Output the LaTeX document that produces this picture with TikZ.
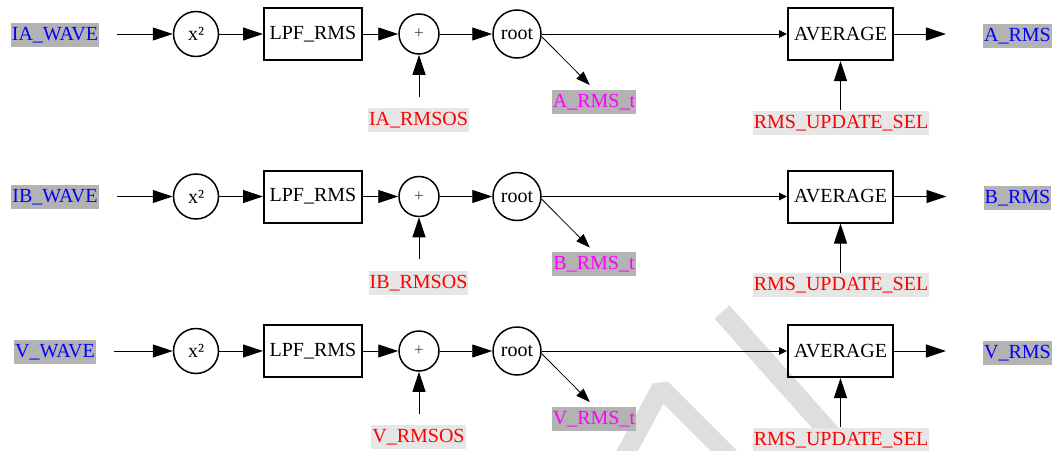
\documentclass[tikz,border=0pt]{standalone}
\usepackage{fontspec}
\setmainfont{Liberation Serif}
\usetikzlibrary{arrows.meta}
\definecolor{lblgray}{RGB}{179,179,179}
\definecolor{lightbg}{RGB}{230,230,230}
\definecolor{wmgray}{RGB}{222,222,222}
\definecolor{plusgray}{RGB}{70,70,70}
\definecolor{tapmag}{RGB}{255,0,255}
\definecolor{sigblue}{RGB}{0,0,255}
\definecolor{ctlred}{RGB}{255,0,0}
\tikzset{
  every node/.style={font=\fontsize{20}{24}\selectfont},
  lbl/.style={inner xsep=1pt, inner ysep=2pt, text height=15.5pt, text depth=4.5pt},
  sig/.style={lbl, fill=lblgray, text=sigblue},
  tap/.style={lbl, fill=lblgray, text=tapmag},
  ctl/.style={lbl, fill=lightbg, text=ctlred},
  op/.style={circle, draw, line width=1.5pt, inner sep=0pt},
  blk/.style={rectangle, draw, line width=2pt, inner sep=0pt, minimum height=52pt},
  conn/.style={line width=0.9pt, -{Triangle[length=20pt,width=13pt]}},
  thinconn/.style={line width=0.9pt, -{Triangle[length=8pt,width=7.5pt]}},
  tapconn/.style={line width=0.8pt, -{Triangle[length=14pt,width=10pt]}},
  wmstroke/.style={draw=wmgray, line width=19pt},
}
% #1 id, #2 row y, #3 input, #4 offset, #5 tap, #6 output
\newcommand\mkrow[6]{%
  \node[sig] (in#1) at (55,#2+0.5) {#3};
  \node[op, minimum size=45pt] (sq#1) at (196,#2) {x²};
  \node[blk, minimum width=98pt] (lpf#1) at (313,#2) {LPF\_RMS};
  \node[op, minimum size=40pt, text=plusgray] (sum#1) at (419,#2) {\fontsize{17}{20}\selectfont +};
  \node[op, minimum size=48pt] (root#1) at (517,#2) {root};
  \node[blk, minimum width=105pt] (avg#1) at (840.5,#2) {AVERAGE};
  \node[sig] (out#1) at (1017.5,#2+1.5) {#6};
  \node[ctl] (os#1) at (418.5,#2+86) {#4};
  \node[tap] (t#1) at (594,#2+67.5) {#5};
  \node[ctl] (sel#1) at (841,#2+88.5) {RMS\_UPDATE\_SEL};
  \draw[conn, shorten <=18pt] (in#1.east |- sq#1) -- (sq#1);
  \draw[conn] (sq#1) -- (lpf#1);
  \draw[conn] (lpf#1) -- (sum#1);
  \draw[conn] (sum#1) -- (root#1);
  \draw[thinconn] (root#1) -- (avg#1);
  \draw[conn, shorten >=37pt] (avg#1.east) -- (avg#1.east -| out#1.west);
  \draw[conn, shorten <=11pt] (os#1.north -| sum#1) -- (sum#1);
  \draw[conn] (sel#1.north -| avg#1) -- (avg#1);
  \draw[tapconn, shorten >=6pt] (root#1.-6) -- (t#1.north);
}
\begin{document}
\begin{tikzpicture}[x=1pt, y=-1pt]
  \useasboundingbox (0,0) rectangle (1055,450);
  \begin{scope}
    \clip (0,0) rectangle (1055,450);
    \draw[wmstroke, line width=20pt] (722,312) -- (862,469);
    \draw[wmstroke, line join=bevel] (618,468) -- (661,388) -- (742,469);
  \end{scope}
  \mkrow{A}{34}{IA\_WAVE}{IA\_RMSOS}{A\_RMS\_t}{A\_RMS}
  \mkrow{B}{196.5}{IB\_WAVE}{IB\_RMSOS}{B\_RMS\_t}{B\_RMS}
  \mkrow{V}{351}{V\_WAVE}{V\_RMSOS}{V\_RMS\_t}{V\_RMS}
\end{tikzpicture}
\end{document}
